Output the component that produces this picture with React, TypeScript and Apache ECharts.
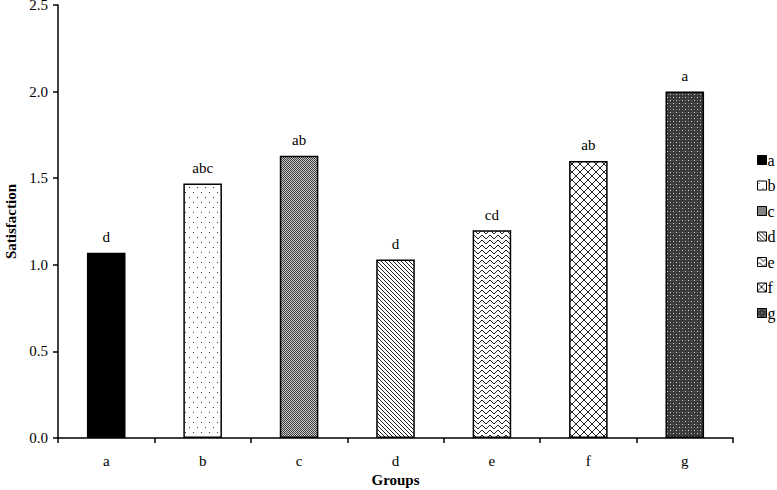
import React, { useEffect, useRef } from "react";
import * as echarts from "echarts";

const categories = ["a", "b", "c", "d", "e", "f", "g"];
const values = [1.07, 1.47, 1.63, 1.03, 1.2, 1.6, 2.0];
const letters = ["d", "abc", "ab", "d", "cd", "ab", "a"];
const yTicks = [0, 0.5, 1.0, 1.5, 2.0, 2.5];

const FONT = "'Liberation Serif', 'Times New Roman', serif";

function tile(w: number, h: number, draw: (c: CanvasRenderingContext2D) => void): string {
  const cv = document.createElement("canvas");
  cv.width = w;
  cv.height = h;
  const c = cv.getContext("2d")!;
  draw(c);
  return cv.toDataURL();
}

function px(c: CanvasRenderingContext2D, x: number, y: number, col: string) {
  c.fillStyle = col;
  c.fillRect(x, y, 1, 1);
}

function makePatterns(): any[] {
  const solid = "#000000";
  const dots = tile(8, 10, (c) => {
    c.fillStyle = "#fff";
    c.fillRect(0, 0, 8, 10);
    px(c, 1, 2, "#333");
    px(c, 5, 7, "#333");
  });
  const checker = tile(2, 2, (c) => {
    c.fillStyle = "#c8c8c8";
    c.fillRect(0, 0, 2, 2);
    px(c, 0, 0, "#404040");
    px(c, 1, 1, "#404040");
  });
  const diag = tile(4, 4, (c) => {
    c.fillStyle = "#fff";
    c.fillRect(0, 0, 4, 4);
    for (let i = 0; i < 4; i++) px(c, i, i, "#222");
  });
  const wave = tile(8, 5, (c) => {
    c.fillStyle = "#fff";
    c.fillRect(0, 0, 8, 5);
    const ys = [1, 0, 0, 1, 2, 3, 3, 2];
    ys.forEach((y, x) => px(c, x, y, "#222"));
  });
  const cross = tile(8, 8, (c) => {
    c.fillStyle = "#fff";
    c.fillRect(0, 0, 8, 8);
    for (let i = 0; i < 8; i++) {
      px(c, i, i, "#222");
      px(c, 7 - i, i, "#222");
    }
  });
  const dark = tile(6, 6, (c) => {
    c.fillStyle = "#3a3a3a";
    c.fillRect(0, 0, 6, 6);
    px(c, 1, 1, "#d8d8d8");
    px(c, 4, 4, "#d8d8d8");
    px(c, 4, 1, "#777");
    px(c, 1, 4, "#777");
  });
  const imgs = [dots, checker, diag, wave, cross, dark];
  return [
    solid,
    ...imgs.map((im) => ({ image: im, repeat: "repeat" })),
  ];
}

export default function App() {
  const ref = useRef<HTMLDivElement>(null);
  useEffect(() => {
    if (!ref.current) return;
    const chart = echarts.init(ref.current, undefined, { renderer: "svg" });
    const patterns = makePatterns();
    const series = categories.map((cat, i) => ({
      name: cat,
      type: "bar",
      barWidth: "40%",
      barGap: "-100%",
      data: categories.map((_, j) => (j === i ? values[j] : "-")),
      itemStyle: {
        color: patterns[i],
        borderColor: "#000",
        borderWidth: 1.5,
      },
      label: {
        show: true,
        position: "top",
        distance: 8,
        formatter: () => letters[i],
        color: "#000",
        fontFamily: FONT,
        fontSize: 15,
      },
    }));
    chart.setOption({
      animation: false,
      backgroundColor: "#fff",
      grid: { left: 58, right: 44, top: 5, bottom: 52, containLabel: false, outerBoundsMode: "none" },
      legend: {
        orient: "vertical",
        left: 752,
        top: 147,
        itemWidth: 9,
        itemHeight: 9,
        itemGap: 9.5,
        icon: "rect",
        data: categories.map((c) => ({ name: c })),
        itemStyle: { borderColor: "#000", borderWidth: 1 },
        textStyle: { fontFamily: FONT, fontSize: 16, color: "#000", padding: [0, 0, 0, -4], lineHeight: 16 },
        selectedMode: false,
      },
      xAxis: {
        type: "category",
        data: categories,
        name: "Groups",
        nameLocation: "middle",
        nameGap: 34,
        nameTextStyle: { fontFamily: FONT, fontSize: 15, fontWeight: "bold", color: "#000" },
        axisLine: { lineStyle: { color: "#000", width: 1.5 } },
        axisTick: { show: true, length: 5, lineStyle: { color: "#000", width: 1.5 } },
        axisLabel: { fontFamily: FONT, fontSize: 15, color: "#000", margin: 15 },
      },
      yAxis: {
        type: "value",
        min: 0,
        max: 2.5,
        interval: 0.5,
        name: "Satisfaction",
        nameLocation: "middle",
        nameGap: 38,
        nameTextStyle: { fontFamily: FONT, fontSize: 15, fontWeight: "bold", color: "#000" },
        axisLine: { show: true, lineStyle: { color: "#000", width: 1.5 } },
        axisTick: { show: true, length: 5, lineStyle: { color: "#000", width: 1.5 } },
        splitLine: { show: false },
        axisLabel: {
          fontFamily: FONT,
          fontSize: 15,
          color: "#000",
          margin: 10,
          formatter: (v: number) => (yTicks.includes(v) ? v.toFixed(1) : ""),
        },
      },
      series,
    });
    return () => chart.dispose();
  }, []);
  return <div ref={ref} style={{ width: 777, height: 490, position: "absolute", left: 0, top: 0 }} />;
}
